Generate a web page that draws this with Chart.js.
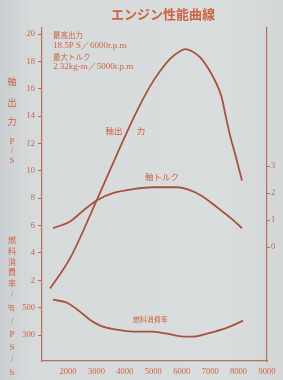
<!DOCTYPE html>
<html>
<head>
    <meta charset="UTF-8">
    <title>エンジン性能曲線</title>
    <script src="https://cdn.jsdelivr.net/npm/chart.js@4"></script>
    <style>
        html, body { margin: 0; padding: 0; }
        body {
            width: 283px;
            height: 380px;
            overflow: hidden;
            background: linear-gradient(90deg, #cbcfd1 0%, #d7dadb 12%, #dadddd 80%, #d3d6d7 100%);
        }
        canvas { display: block; }
    </style>
</head>
<body>
    <canvas id="engineChart" width="283" height="380"></canvas>

    <script>
        // values (rpm on x)
        var rpmPower = [1370, 2070, 3020, 4110, 4600, 4890, 5240, 5590, 5940, 6120, 6360, 6650, 6930, 7170, 7390, 7560, 7700, 7910, 8120];
        var power = [1.4, 3.6, 7.9, 13.0, 15.1, 16.2, 17.3, 18.2, 18.75, 18.9, 18.75, 18.3, 17.5, 16.6, 15.5, 13.9, 12.6, 11.0, 9.3];

        var rpmTorque = [1470, 2070, 2530, 3020, 3580, 4290, 4990, 5840, 6190, 6650, 7240, 7810, 8120];
        var torque = [0.70, 0.95, 1.35, 1.74, 2.0, 2.15, 2.22, 2.22, 2.15, 1.93, 1.48, 1.0, 0.70];

        var rpmFuel = [1470, 1965, 2420, 2770, 3130, 3720, 4290, 4890, 5480, 6050, 6400, 6890, 7600, 8160];
        var fuel = [558, 536, 471, 412, 369, 339, 325, 325, 310, 288, 288, 310, 354, 405];

        var rpmTicks = [2000, 3000, 4000, 5000, 6000, 7000, 8000, 9000];
        var powerTicks = [2, 4, 6, 8, 10, 12, 14, 16, 18, 20];
        var fuelTicks = [300, 500];
        var torqueTicks = [0, 1, 2, 3];

        var title = 'エンジン性能曲線';
        var notes = ['最高出力', '18.5P S／6000r.p.m', '最大トルク', '2.32kg-m／5000r.p.m'];

        // how the shared left axis and the right axis line up with the power scale
        var hpMin = -3.9, hpMax = 20.45;
        var fuelAtHpZero = 500, fuelPerHp = 100;
        var torqueZeroHp = 4.43, hpPerTorque = 1.97;

        var curveColor = '#a5533e';
        var textColor = '#cc6444';
        var axisColor = '#b8705a';
        var numFont = '"Liberation Serif", serif';
        var jpFont = '"Noto Sans CJK JP", sans-serif';

        function pts(xs, ys) {
            return xs.map(function (x, i) { return { x: x, y: ys[i] }; });
        }
        function setTicks(values) {
            return function (scale) {
                scale.ticks = values.map(function (v) { return { value: v }; });
            };
        }

        // vertical titles, curve names and the spec note
        var sheetText = {
            id: 'sheetText',
            afterDraw: function (chart) {
                var ctx = chart.ctx;
                var sx = chart.scales.x, sHp = chart.scales.yHp, sTq = chart.scales.yTq, sFuel = chart.scales.yFuel;
                ctx.save();
                ctx.fillStyle = textColor;
                ctx.textAlign = 'center';
                ctx.textBaseline = 'middle';

                ctx.font = 'bold 13px ' + jpFont;
                ctx.fillText(title, 163, 14);

                ctx.font = '9px ' + jpFont;
                [['軸', 82], ['出', 103], ['力', 122]].forEach(function (c) { ctx.fillText(c[0], 12, c[1]); });
                ctx.font = '9px ' + numFont;
                [['P', 142], ['/', 151], ['S', 161]].forEach(function (c) { ctx.fillText(c[0], 12, c[1]); });

                ctx.font = '8px ' + jpFont;
                [['燃', 240], ['料', 251], ['消', 262], ['費', 272], ['率', 283]].forEach(function (c) { ctx.fillText(c[0], 12, c[1]); });
                ctx.font = '9px ' + numFont;
                [['/', 295], ['/', 322], ['P', 335], ['S', 348], ['/', 360], ['h', 373]].forEach(function (c) { ctx.fillText(c[0], 12, c[1]); });
                ctx.save();
                ctx.translate(12, 308);
                ctx.rotate(Math.PI / 2);
                ctx.fillText('gr', 0, 0);
                ctx.restore();

                // curve names
                ctx.font = '8.5px ' + jpFont;
                ctx.fillText('軸出', sx.getPixelForValue(3620), sHp.getPixelForValue(12.9));
                ctx.fillText('力', sx.getPixelForValue(4570), sHp.getPixelForValue(12.9));
                ctx.fillText('軸トルク', sx.getPixelForValue(5310), sTq.getPixelForValue(2.6));
                ctx.font = '7px ' + jpFont;
                ctx.fillText('燃料消費率', sx.getPixelForValue(4890), sFuel.getPixelForValue(412));

                // spec note, top left
                ctx.textAlign = 'left';
                ctx.font = '7.5px ' + jpFont;
                ctx.fillText(notes[0], 53, 35);
                ctx.fillText(notes[2], 53, 57);
                ctx.font = '9px ' + numFont;
                ctx.fillText(notes[1], 53, 46);
                ctx.fillText(notes[3], 53, 67);
                ctx.restore();
            }
        };

        var tickFont = { family: numFont, size: 8.5 };

        new Chart(document.getElementById('engineChart').getContext('2d'), {
            type: 'line',
            data: {
                datasets: [
                    { label: '軸出力', data: pts(rpmPower, power), yAxisID: 'yHp' },
                    { label: '軸トルク', data: pts(rpmTorque, torque), yAxisID: 'yTq' },
                    { label: '燃料消費率', data: pts(rpmFuel, fuel), yAxisID: 'yFuel' }
                ]
            },
            options: {
                responsive: false,
                animation: false,
                layout: { padding: { top: 28, left: 0, right: 0, bottom: 0 } },
                elements: {
                    point: { radius: 0 },
                    line: { borderColor: curveColor, borderWidth: 1.8, cubicInterpolationMode: 'monotone', fill: false }
                },
                plugins: {
                    legend: { display: false },
                    tooltip: { enabled: false }
                },
                scales: {
                    x: {
                        type: 'linear',
                        min: 1085,
                        max: 9000,
                        afterBuildTicks: setTicks(rpmTicks),
                        afterFit: function (s) { s.height = 19; },
                        grid: { drawOnChartArea: false, drawTicks: false },
                        border: { color: axisColor, width: 1.2 },
                        ticks: {
                            color: textColor, font: tickFont, padding: 6, maxRotation: 0, autoSkip: false,
                            callback: function (v) { return String(v); }
                        }
                    },
                    yHp: {
                        position: 'left',
                        min: hpMin,
                        max: hpMax,
                        afterBuildTicks: function (s) {
                            var vals = fuelTicks.map(function (f) { return (f - fuelAtHpZero) / fuelPerHp; }).concat(powerTicks);
                            s.ticks = vals.map(function (v) { return { value: v }; });
                        },
                        afterFit: function (s) { s.width = 42; },
                        grid: { drawOnChartArea: false, tickLength: 4, color: axisColor },
                        border: { color: axisColor, width: 1.2 },
                        ticks: {
                            color: textColor,
                            font: tickFont,
                            padding: 3,
                            autoSkip: false,
                            callback: function (v) {
                                return String(v > 0 ? v : fuelAtHpZero + v * fuelPerHp);
                            }
                        }
                    },
                    yFuel: {
                        display: false,
                        min: fuelAtHpZero + hpMin * fuelPerHp,
                        max: fuelAtHpZero + hpMax * fuelPerHp
                    },
                    yTq: {
                        position: 'right',
                        min: (hpMin - torqueZeroHp) / hpPerTorque,
                        max: (hpMax - torqueZeroHp) / hpPerTorque,
                        afterBuildTicks: setTicks(torqueTicks),
                        afterFit: function (s) { s.width = 16; },
                        grid: { drawOnChartArea: false, tickLength: 3, color: axisColor },
                        border: { color: axisColor, width: 1.2 },
                        ticks: { color: textColor, font: tickFont, padding: 1, autoSkip: false }
                    }
                }
            },
            plugins: [sheetText]
        });
    </script>
</body>
</html>
